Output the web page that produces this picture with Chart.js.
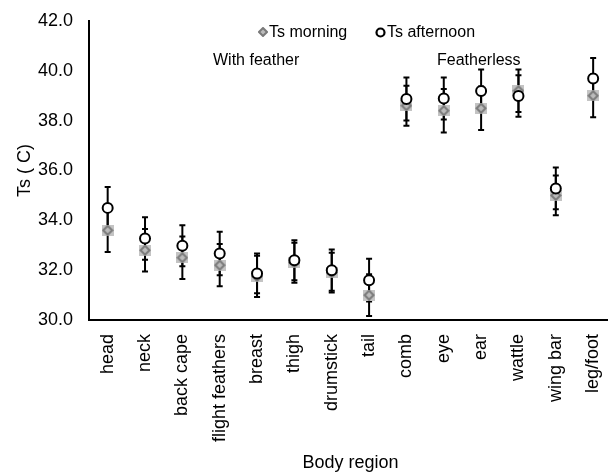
<!DOCTYPE html>
<html>
<head>
<meta charset="utf-8">
<script src="https://cdn.jsdelivr.net/npm/chart.js@4"></script>
<style>
    html, body { margin: 0; padding: 0; background: #fff; overflow: hidden; }
    #wrap { position: relative; width: 621px; height: 472px; }
    .note { position: absolute; font-family: "Liberation Sans", Arial, sans-serif; font-size: 16px; color: #000; white-space: nowrap; line-height: 16px; }
    .legend-item { position: absolute; display: flex; align-items: center; font-family: "Liberation Sans", Arial, sans-serif; font-size: 16px; line-height: 16px; color: #000; white-space: nowrap; }
    .legend-item canvas { margin-right: 1px; }
</style>
</head>
<body>
<div id="wrap">
    <canvas id="tsChart"></canvas>
    <div class="note" style="left:213px; top:52px;">With feather</div>
    <div class="note" style="left:437px; top:52px;">Featherless</div>
    <div id="legendMorning" class="legend-item" style="left:258px; top:24px;"></div>
    <div id="legendAfternoon" class="legend-item" style="left:375px; top:24px;"></div>
</div>
<script>
const regions = ['head', 'neck', 'back cape', 'flight feathers', 'breast', 'thigh', 'drumstick', 'tail',
                 'comb', 'eye', 'ear', 'wattle', 'wing bar', 'leg/foot'];
const tsMorning   = [33.6, 32.8, 32.5, 32.2, 31.75, 32.3, 31.9, 31.0, 38.6, 38.4, 38.5, 39.2, 35.0, 39.0];
const morningErr  = [0.87, 0.85, 0.85, 0.85, 0.83, 0.8, 0.8, 0.84, 0.8, 0.87, 0.87, 0.85, 0.8, 0.86];
const tsAfternoon = [34.5, 33.27, 32.98, 32.67, 31.87, 32.4, 32.0, 31.6, 38.87, 38.89, 39.19, 38.99, 35.28, 39.69];
const afternoonErr = [0.84, 0.85, 0.82, 0.87, 0.8, 0.8, 0.83, 0.86, 0.86, 0.84, 0.86, 0.83, 0.84, 0.83];
const yTicks = [30, 32, 34, 36, 38, 40, 42];

const fontFamily = '"Liberation Sans", Arial, sans-serif';

function diamondMarker(w, h, withSquare) {
    const c = document.createElement('canvas');
    c.width = w;
    c.height = h;
    const g = c.getContext('2d');
    if (withSquare) {
        g.fillStyle = '#c4c4c4';
        g.fillRect(0, 0, w, h);
    }
    const cx = w / 2, cy = h / 2, r = Math.min(w, h) / 2 - 1;
    g.beginPath();
    g.moveTo(cx, cy - r);
    g.lineTo(cx + r, cy);
    g.lineTo(cx, cy + r);
    g.lineTo(cx - r, cy);
    g.closePath();
    g.fillStyle = '#bcbcbc';
    g.fill();
    g.strokeStyle = '#7a7a7a';
    g.lineWidth = 2;
    g.stroke();
    return c;
}

function circleMarker(size) {
    const c = document.createElement('canvas');
    c.width = size;
    c.height = size;
    const g = c.getContext('2d');
    g.beginPath();
    g.arc(size / 2, size / 2, size / 2 - 1.5, 0, Math.PI * 2);
    g.fillStyle = '#fff';
    g.fill();
    g.strokeStyle = '#000';
    g.lineWidth = 2.2;
    g.stroke();
    return c;
}

// error bars drawn under the markers
const errorBars = {
    id: 'errorBars',
    beforeDatasetsDraw(chart) {
        const ctx = chart.ctx;
        const y = chart.scales.y;
        ctx.save();
        ctx.strokeStyle = '#000';
        ctx.lineWidth = 2;
        chart.data.datasets.forEach((ds, i) => {
            const meta = chart.getDatasetMeta(i);
            meta.data.forEach((pt, j) => {
                const v = ds.data[j];
                const e = ds.errors[j];
                const top = y.getPixelForValue(v + e);
                const bot = y.getPixelForValue(v - e);
                ctx.beginPath();
                ctx.moveTo(pt.x, top);
                ctx.lineTo(pt.x, bot);
                ctx.moveTo(pt.x - 3, top);
                ctx.lineTo(pt.x + 3, top);
                ctx.moveTo(pt.x - 3, bot);
                ctx.lineTo(pt.x + 3, bot);
                ctx.stroke();
            });
        });
        ctx.restore();
    }
};

const ctx = document.getElementById('tsChart');
const chart = new Chart(ctx, {
    type: 'line',
    data: {
        labels: regions,
        datasets: [
            {
                label: 'Ts morning',
                data: tsMorning,
                errors: morningErr,
                showLine: false,
                pointStyle: diamondMarker(12, 11, true),
                order: 2
            },
            {
                label: 'Ts afternoon',
                data: tsAfternoon,
                errors: afternoonErr,
                showLine: false,
                pointStyle: 'circle',
                pointRadius: 5,
                pointBorderWidth: 2,
                pointBorderColor: '#000',
                pointBackgroundColor: '#fff',
                order: 1
            }
        ]
    },
    options: {
        responsive: true,
        maintainAspectRatio: false,
        animation: false,
        events: [],
        layout: {
            padding: { top: 21, left: 0, right: 0, bottom: 0 }
        },
        plugins: {
            legend: { display: false },
            tooltip: { enabled: false }
        },
        scales: {
            x: {
                offset: true,
                grid: { display: false },
                border: { display: true, color: '#000', width: 2 },
                ticks: {
                    minRotation: 90,
                    maxRotation: 90,
                    padding: 6,
                    color: '#000',
                    font: { family: fontFamily, size: 18 }
                },
                title: {
                    display: true,
                    text: 'Body region',
                    color: '#000',
                    padding: { top: 0, bottom: 0 },
                    font: { family: fontFamily, size: 18, lineHeight: 1 }
                },
                afterFit(scale) {
                    scale.height = 152;
                }
            },
            y: {
                min: 30,
                max: 42,
                grid: { display: false },
                border: { display: true, color: '#000', width: 2 },
                afterBuildTicks(scale) {
                    scale.ticks = yTicks.map(v => ({ value: v }));
                },
                ticks: {
                    padding: 8,
                    color: '#000',
                    font: { family: fontFamily, size: 18 },
                    callback: v => Number(v).toFixed(1)
                },
                title: {
                    display: true,
                    text: 'Ts ( C)',
                    color: '#000',
                    padding: { top: 16, bottom: 0 },
                    font: { family: fontFamily, size: 18, lineHeight: 1 }
                },
                afterFit(scale) {
                    scale.width = 89;
                }
            }
        }
    },
    plugins: [errorBars]
});

function addLegend(id, marker, text) {
    const el = document.getElementById(id);
    el.appendChild(marker);
    el.appendChild(document.createTextNode(text));
}
addLegend('legendMorning', diamondMarker(10, 10, false), chart.data.datasets[0].label);
addLegend('legendAfternoon', circleMarker(11), chart.data.datasets[1].label);
</script>
</body>
</html>
